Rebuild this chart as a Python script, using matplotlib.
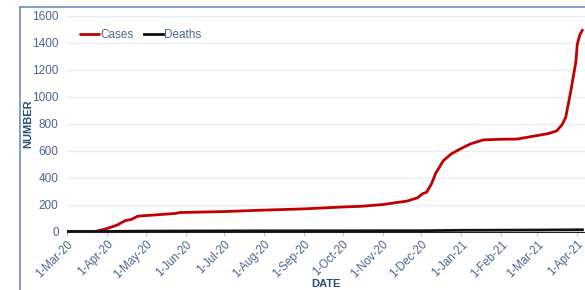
import pandas as pd
import matplotlib.pyplot as plt
import matplotlib.dates as mdates
from matplotlib.lines import Line2D

plt.rcParams['font.family'] = ['Liberation Sans', 'DejaVu Sans']

# Cumulative cases
case_dates = ['2020-03-01', '2020-03-23', '2020-04-01', '2020-04-09', '2020-04-15',
              '2020-04-20', '2020-04-25', '2020-05-01', '2020-05-24', '2020-05-28',
              '2020-07-01', '2020-07-29', '2020-09-01', '2020-10-01', '2020-10-15',
              '2020-11-01', '2020-11-14', '2020-11-20', '2020-11-28', '2020-12-02',
              '2020-12-05', '2020-12-09', '2020-12-12', '2020-12-18', '2020-12-24',
              '2020-12-31', '2021-01-08', '2021-01-18', '2021-02-01', '2021-02-13',
              '2021-03-03', '2021-03-10', '2021-03-16', '2021-03-20', '2021-03-23',
              '2021-03-27', '2021-03-31', '2021-04-01', '2021-04-03', '2021-04-05']
cases = [0, 0, 22, 48, 80,
         90, 114, 118, 134, 141,
         148, 158, 168, 182, 187,
         200, 218, 226, 250, 281,
         291, 356, 430, 525, 575,
         612, 650, 680, 685, 686,
         716, 728, 747, 790, 846,
         1043, 1265, 1390, 1460, 1495]

death_dates = ['2020-03-01', '2020-03-25', '2020-05-01', '2020-08-01', '2020-12-01',
               '2021-01-01', '2021-03-01', '2021-04-05']
deaths = [0, 0, 3, 5, 6, 9, 11, 13]

case_dates = pd.to_datetime(case_dates)
death_dates = pd.to_datetime(death_dates)

fig = plt.figure(figsize=(5.85, 2.9), dpi=100)
ax = fig.add_axes([67 / 585, 1 - 231.5 / 290, 1 - 67 / 585, (231.5 - 16) / 290])

ax.plot(case_dates, cases, color='#c00000', lw=2.0, label='Cases', solid_capstyle='round')
ax.plot(death_dates, deaths, color='#111111', lw=2.0, label='Deaths')

ax.set_xlim(pd.Timestamp('2020-03-01'), pd.Timestamp('2021-04-07'))
ax.set_ylim(0, 1600)
ax.set_yticks(range(0, 1601, 200))

ax.xaxis.set_major_locator(mdates.MonthLocator())
ax.xaxis.set_major_formatter(mdates.DateFormatter('1-%b-%y'))
label_color = '#4a6590'
for lab in ax.get_xticklabels():
    lab.set_rotation(45)
    lab.set_ha('right')
    lab.set_rotation_mode('anchor')
ax.tick_params(axis='x', colors='#c8c8c8', labelcolor=label_color, labelsize=8.3,
               length=3, pad=2)
ax.tick_params(axis='y', length=0, labelcolor=label_color, labelsize=8.5, pad=6)

ax.grid(axis='y', color='#e6edf7', lw=1)
ax.set_axisbelow(True)
for side in ['top', 'right', 'left']:
    ax.spines[side].set_visible(False)
ax.spines['bottom'].set_color('#222222')

ax.set_ylabel('NUMBER', fontweight='bold', color='#2b4a7a', fontsize=8, labelpad=-1)
ax.set_xlabel('DATE', fontweight='bold', color='#2b4a7a', fontsize=8)
ax.xaxis.set_label_coords(0.5, -0.265)
ax.xaxis.label.set_va('bottom')

ax.legend(loc='upper left', ncol=2, frameon=False, fontsize=8.5, labelcolor=label_color,
          handlelength=1.6, handletextpad=0.1, columnspacing=0.9,
          bbox_to_anchor=(0.005, 0.99))

# outer frame of the chart box
fig.add_artist(Line2D([20 / 585, 20 / 585], [0, 1 - 7 / 290], color='#6b8fbf', lw=1.2))
fig.add_artist(Line2D([20 / 585, 1], [1 - 7 / 290, 1 - 7 / 290], color='#6b8fbf', lw=1.2))

fig.savefig('out.png', dpi=100)
